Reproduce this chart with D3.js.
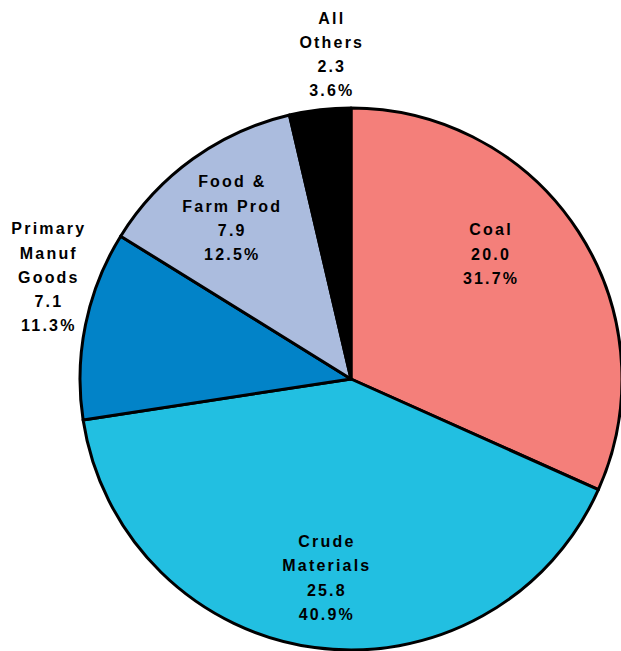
<!DOCTYPE html>
<html>
<head>
<meta charset="utf-8">
<script src="https://cdn.jsdelivr.net/npm/d3@7"></script>
<style>
  body { margin: 0; background: #fff; }
  svg { display: block; }
  text { font-family: "Liberation Sans", Arial, sans-serif; font-weight: bold; font-size: 16px; letter-spacing: 2.2px; fill: #000; }
</style>
</head>
<body>
<div class="chart-area"></div>
<script>
let categories = ["Coal", "Crude Materials", "Primary Manuf Goods", "Food & Farm Prod", "All Others"];
let values = [20.0, 25.8, 7.1, 7.9, 2.3];
let percents = ["31.7%", "40.9%", "11.3%", "12.5%", "3.6%"];
let labelLines = [["Coal"], ["Crude", "Materials"], ["Primary", "Manuf", "Goods"], ["Food &", "Farm Prod"], ["All", "Others"]];
let colors = ["#f47f7a", "#22bfe1", "#0283c8", "#abbcde", "#000000"];

let width = 621, height = 651,
  cx = 351, cy = 379, radius = 271;

let svg = d3.select("div.chart-area").append("svg")
  .attr("width", width)
  .attr("height", height);

let data = categories.map(function(c, i) {
  return { name: c, value: values[i], pct: percents[i], lines: labelLines[i], color: colors[i] };
});

let pie = d3.pie()
  .value(function(d) { return d.value; })
  .sort(null);

let arc = d3.arc()
  .innerRadius(0)
  .outerRadius(radius);

let g = svg.append("g")
  .attr("transform", "translate(" + cx + "," + cy + ")");

let arcs = pie(data);

g.selectAll("path")
  .data(arcs)
  .enter().append("path")
  .attr("d", arc)
  .style("fill", function(d) { return d.data.color; })
  .style("stroke", "#000")
  .style("stroke-width", 3)
  .style("stroke-linejoin", "round");

// label placement: angle shift (deg) from slice middle and radius fraction
let labelShift = [-9, -0.5, 7, -1, 3];
let labelRadius = [0.69, 0.74, 1.18, 0.74, 1.2];
let lineH = 24.3;

let labels = g.selectAll("text.label")
  .data(arcs)
  .enter().append("text")
  .attr("class", "label")
  .attr("text-anchor", "middle")
  .attr("transform", function(d, i) {
    let a = (d.startAngle + d.endAngle) / 2 + labelShift[i] * Math.PI / 180;
    let r = radius * labelRadius[i];
    return "translate(" + (Math.sin(a) * r) + "," + (-Math.cos(a) * r) + ")";
  });

labels.each(function(d) {
  let lines = d.data.lines.concat([d.data.value.toFixed(1), d.data.pct]);
  let t = d3.select(this);
  let top = -(lines.length - 1) * lineH / 2;
  lines.forEach(function(l, j) {
    t.append("tspan")
      .attr("x", 1)
      .attr("y", top + j * lineH)
      .attr("dy", "0.35em")
      .text(l);
  });
});
</script>
</body>
</html>
